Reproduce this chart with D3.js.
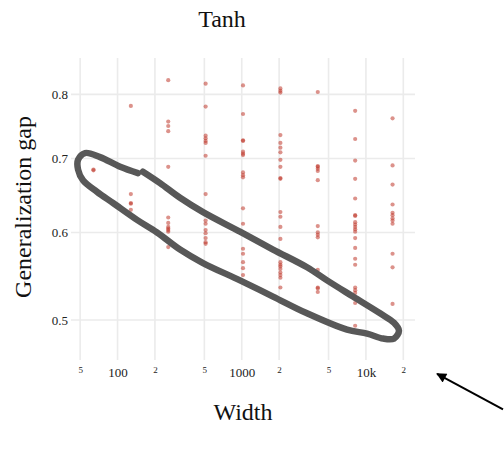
<!DOCTYPE html>
<html>
<head>
<meta charset="utf-8">
<script src="https://cdn.jsdelivr.net/npm/d3@7"></script>
<style>
  html, body { margin: 0; padding: 0; background: #fff; }
  svg { display: block; font-family: "Liberation Serif", "Times New Roman", serif; }
</style>
</head>
<body>
<svg id="chart" width="504" height="454"></svg>
<script>
(function () {
  'use strict';

  // ── Data: generalization gap per network width (Tanh) ─────────────────────
  const widths = [64, 128, 256, 512, 1024, 2048, 4096, 8192, 16384];

  const gap64    = [0.684, 0.683];
  const gap128   = [0.781, 0.650, 0.638, 0.637, 0.629];
  const gap256   = [0.824, 0.756, 0.749, 0.741, 0.688, 0.619, 0.612, 0.607, 0.605, 0.603, 0.601, 0.582];
  const gap512   = [0.818, 0.780, 0.734, 0.730, 0.726, 0.723, 0.704, 0.650, 0.615, 0.611, 0.603, 0.599, 0.593, 0.588, 0.586];
  const gap1024  = [0.815, 0.768, 0.727, 0.726, 0.710, 0.707, 0.705, 0.680, 0.676, 0.673, 0.631, 0.611, 0.580, 0.574, 0.564, 0.557, 0.549];
  const gap2048  = [0.810, 0.806, 0.803, 0.735, 0.723, 0.716, 0.709, 0.698, 0.688, 0.672, 0.671, 0.626, 0.620, 0.607, 0.592,
                    0.564, 0.561, 0.559, 0.556, 0.552, 0.549, 0.546, 0.535];
  const gap4096  = [0.804, 0.689, 0.688, 0.685, 0.682, 0.669, 0.608, 0.600, 0.597, 0.594, 0.555, 0.535, 0.534, 0.530];
  const gap8192  = [0.773, 0.729, 0.697, 0.671, 0.644, 0.622, 0.621, 0.613, 0.610, 0.607, 0.604, 0.601, 0.593, 0.581, 0.568,
                    0.561, 0.535, 0.532, 0.529, 0.518, 0.494];
  const gap16384 = [0.761, 0.690, 0.663, 0.636, 0.625, 0.622, 0.618, 0.615, 0.611, 0.574, 0.558, 0.517];

  const gapsByWidth = [gap64, gap128, gap256, gap512, gap1024, gap2048, gap4096, gap8192, gap16384];

  // Axis ticks
  const xTicks      = [50, 100, 200, 500, 1000, 2000, 5000, 10000, 20000];
  const xTickLabels = ['5', '100', '2', '5', '1000', '2', '5', '10k', '2'];
  const xMajor      = [false, true, false, false, true, false, false, true, false];
  const yTicks      = [0.5, 0.6, 0.7, 0.8];
  const yTickLabels = ['0.5', '0.6', '0.7', '0.8'];

  // Hand-drawn annotation (in data units: [width, gap])
  const loopPath = [
    [146, 0.679], [105, 0.688], [72.3, 0.702], [54.8, 0.708], [48.1, 0.698], [48.1, 0.684],
    [52.7, 0.669], [68.4, 0.653], [92, 0.638], [143.5, 0.616], [208, 0.600], [318.6, 0.579],
    [488, 0.563], [968, 0.543], [1786, 0.525], [3357, 0.507], [7047, 0.490], [10210, 0.486],
    [13740, 0.481], [16830, 0.481], [18450, 0.489], [16830, 0.497], [13000, 0.507], [7870, 0.525],
    [4863, 0.543], [3357, 0.558], [1786, 0.579], [968, 0.601], [488, 0.626], [318.6, 0.645],
    [220, 0.665], [160, 0.681]
  ];
  const arrowPath = [[127000, 0.415], [37400, 0.447]];

  // ── Layout ────────────────────────────────────────────────────────────────
  const panel = { left: 71, right: 415, top: 58, bottom: 360 };

  const svg = d3.select('#chart');

  const xScale = d3.scaleLog().domain([42.2, 24840]).range([panel.left, panel.right]);
  const yScale = d3.scaleLog().domain([0.46, 0.863]).range([panel.bottom, panel.top]);

  // Grid lines
  const grid = svg.append('g').attr('class', 'grid');
  grid.selectAll('line.v')
    .data(xTicks)
    .enter().append('line')
    .attr('class', 'v')
    .attr('x1', d => xScale(d)).attr('x2', d => xScale(d))
    .attr('y1', panel.top).attr('y2', panel.bottom)
    .attr('stroke', '#ebebeb').attr('stroke-width', 1.6);
  grid.selectAll('line.h')
    .data(yTicks)
    .enter().append('line')
    .attr('class', 'h')
    .attr('x1', panel.left).attr('x2', panel.right)
    .attr('y1', d => yScale(d)).attr('y2', d => yScale(d))
    .attr('stroke', '#ebebeb').attr('stroke-width', 1.6);

  // X axis labels (log ticks: small digit for minor, full value for decades)
  const xAxis = svg.append('g')
    .attr('transform', `translate(0,${panel.bottom})`)
    .call(d3.axisBottom(xScale).tickValues(xTicks).tickSize(0)
      .tickFormat((d, i) => xTickLabels[i]))
    .call(ax => ax.select('.domain').remove());
  xAxis.selectAll('.tick text')
    .attr('font-family', '"Liberation Serif", "Times New Roman", serif')
    .attr('fill', '#222')
    .attr('font-size', (d, i) => xMajor[i] ? 13 : 9)
    .attr('y', (d, i) => xMajor[i] ? 17 : 13)
    .attr('dy', 0);

  // Y axis labels
  const yAxis = svg.append('g')
    .attr('transform', `translate(${panel.left},0)`)
    .call(d3.axisLeft(yScale).tickValues(yTicks).tickSize(0)
      .tickFormat((d, i) => yTickLabels[i]))
    .call(ax => ax.select('.domain').remove());
  yAxis.selectAll('.tick text')
    .attr('font-family', '"Liberation Serif", "Times New Roman", serif')
    .attr('fill', '#222')
    .attr('font-size', 13)
    .attr('x', -3);

  // Points
  const points = [];
  widths.forEach((w, i) => gapsByWidth[i].forEach(g => points.push({ w, g })));

  svg.append('g').selectAll('circle')
    .data(points)
    .enter().append('circle')
    .attr('cx', d => xScale(d.w))
    .attr('cy', d => yScale(d.g))
    .attr('r', 2.1)
    .attr('fill', '#c0392b')
    .attr('opacity', 0.55);

  // Hand-drawn loop annotation
  const line = d3.line()
    .x(d => xScale(d[0]))
    .y(d => yScale(d[1]))
    .curve(d3.curveCatmullRom.alpha(0.5));

  svg.append('path')
    .datum(loopPath)
    .attr('d', line)
    .attr('fill', 'none')
    .attr('stroke', '#585858')
    .attr('stroke-width', 6.5)
    .attr('stroke-linecap', 'round')
    .attr('stroke-linejoin', 'round');

  // Arrow annotation
  svg.append('defs').append('marker')
    .attr('id', 'arrowhead')
    .attr('viewBox', '0 0 10 10')
    .attr('refX', 9).attr('refY', 5)
    .attr('markerUnits', 'userSpaceOnUse')
    .attr('markerWidth', 12).attr('markerHeight', 10)
    .attr('orient', 'auto')
    .append('path')
    .attr('d', 'M0,0 L10,5 L0,10 z')
    .attr('fill', '#000');

  svg.append('path')
    .datum(arrowPath)
    .attr('d', d3.line().x(d => xScale(d[0])).y(d => yScale(d[1])))
    .attr('fill', 'none')
    .attr('stroke', '#000')
    .attr('stroke-width', 2)
    .attr('marker-end', 'url(#arrowhead)');

  // Titles
  svg.append('text')
    .attr('x', 222).attr('y', 27)
    .attr('text-anchor', 'middle')
    .attr('font-size', 24)
    .attr('fill', '#111')
    .text('Tanh');

  svg.append('text')
    .attr('x', 243).attr('y', 420)
    .attr('text-anchor', 'middle')
    .attr('font-size', 24)
    .attr('fill', '#111')
    .text('Width');

  svg.append('text')
    .attr('transform', 'translate(31,207) rotate(-90)')
    .attr('text-anchor', 'middle')
    .attr('font-size', 24)
    .attr('fill', '#111')
    .text('Generalization gap');
})();
</script>
</body>
</html>
